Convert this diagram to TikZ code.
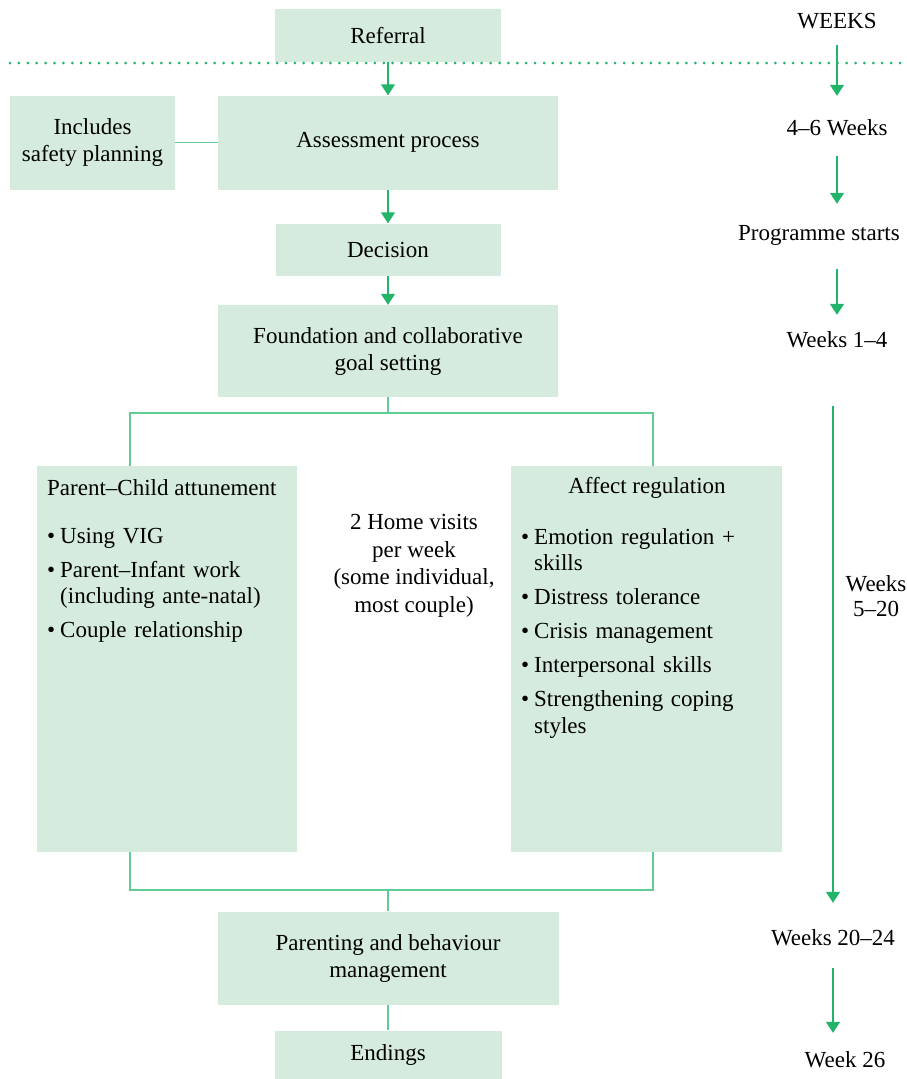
\documentclass[tikz,border=0pt]{standalone}
\usepackage{fontspec}
\setmainfont{Liberation Serif}
\usetikzlibrary{arrows.meta,positioning}

\definecolor{boxgreen}{HTML}{D5EBDD}
\definecolor{arrowgreen}{HTML}{22B46A}
\definecolor{linkgreen}{HTML}{5FCB95}

\tikzstyle{greenbox} = [fill=boxgreen, inner sep=0pt, align=center, font=\fontsize{23}{27}\selectfont]
\tikzstyle{plaintext} = [inner sep=0pt, font=\fontsize{23}{27}\selectfont]
\tikzstyle{itemlist} = [inner sep=0pt, anchor=north west, text width=250pt, font=\fontsize{23}{26.5}\selectfont]
\tikzstyle{weeklabel} = [inner sep=0pt, text height=15pt, text depth=1pt, font=\fontsize{23}{25}\selectfont]
\tikzstyle{arrowg} = [line width=1.5pt, arrowgreen, -{Triangle[width=14pt,length=11pt]}]
\tikzstyle{link} = [line width=1.8pt, linkgreen]

\newcommand{\itm}[1]{\hangindent=13pt\hangafter=1\noindent\makebox[13pt][l]{\textbullet}#1\par\vspace{7.5pt}}

\begin{document}
\begin{tikzpicture}[x=1pt, y=-1pt, node distance=107pt]
\useasboundingbox (0,0) rectangle (907,1079);

% main column
\node (referral) [greenbox, minimum width=226pt, minimum height=53pt] at (388,35.5) {Referral};
\node (assess) [greenbox, minimum width=340pt, minimum height=94pt, below of=referral] {Assessment process};
\node (include) [greenbox, minimum width=165pt, minimum height=94pt, left of=assess, xshift=-188.5pt] {Includes\\safety planning};
\node (decision) [greenbox, minimum width=225pt, minimum height=52pt, below of=assess] {Decision};
\node (found) [greenbox, minimum width=340pt, minimum height=92pt, below of=decision, yshift=5.5pt] {Foundation and collaborative\\goal setting};

% the two strands
\node (pcbox) [greenbox, minimum width=260pt, minimum height=386pt] at (167,659) {};
\node (arbox) [greenbox, minimum width=271pt, minimum height=386pt] at (646.5,659) {};
\node (pctitle) [plaintext, anchor=west] at (47,488) {Parent--Child attunement};
\node (artitle) [plaintext] at (647,488) {Affect regulation};
\node (pclist) [itemlist] at (47,528) {\itm{Using VIG}\itm{Parent--Infant work\newline (including ante-natal)}\itm{Couple relationship}};
\node (arlist) [itemlist] at (521,528) {\itm{Emotion regulation +\newline skills}\itm{Distress tolerance}\itm{Crisis management}\itm{Interpersonal skills}\itm{Strengthening coping\newline styles}};
\node (visits) [plaintext, align=center, font=\fontsize{23}{27.5}\selectfont] at (414,566) {2 Home visits\\per week\\(some individual,\\most couple)};

\node (parenting) [greenbox, minimum width=341pt, minimum height=93pt] at (388,958) {Parenting and behaviour\\management};
\node (endings) [greenbox, minimum width=227pt, minimum height=49pt, below of=parenting, yshift=10pt] {Endings};

% weeks column
\node (weeks) [weeklabel] at (837,21) {WEEKS};
\node (w46) [weeklabel, below of=weeks] {4--6 Weeks};
\node (progstart) [weeklabel, below of=w46, xshift=-18pt, yshift=2pt] {Programme starts};
\node (w14) [weeklabel, below of=progstart, xshift=18pt] {Weeks 1--4};
\node (w520) [plaintext, align=center, font=\fontsize{23}{25}\selectfont] at (876,596) {Weeks\\5--20};
\node (w2024) [weeklabel] at (833,938) {Weeks 20--24};
\node (w26) [weeklabel, below of=w2024, xshift=12pt, yshift=-15pt] {Week 26};

% separator
\coordinate (sepL) at (10,63);
\coordinate (sepR) at (907,63);
\draw [arrowgreen, line width=3pt, line cap=round, dash pattern=on 0pt off 8.9pt] (sepL) -- (sepR);

% branch points
\coordinate (splitL) at (130,413);
\coordinate (splitR) at (653,413);
\coordinate (joinL) at (130,890);
\coordinate (joinR) at (653,890);

\draw [arrowg] (referral) -- (assess);
\draw [arrowg] (assess) -- (decision);
\draw [arrowg] (decision) -- (found);
\draw [link] (include) -- (assess);

\draw [link] (found.south) -- (found.south |- splitL);
\draw [link] (splitL |- pcbox.north) -- (splitL) -- (splitR) -- (splitR |- arbox.north);
\draw [link] (splitL |- pcbox.south) -- (joinL) -- (joinR) -- (splitR |- arbox.south);
\draw [link] (parenting.north |- joinL) -- (parenting.north);
\draw [link] (parenting) -- (endings);

\draw [arrowg, shorten <=16pt, shorten >=24pt] (weeks) -- (w46);
\draw [arrowg, shorten <=20pt, shorten >=21pt] (w46.south) -- (w46.south |- progstart.north);
\draw [arrowg, shorten <=28pt, shorten >=17pt] (progstart.south -| w14) -- (w14.north);
\draw [arrowg, shorten <=58pt, shorten >=27pt] (w14.south -| w2024) -- (w2024.north);
\draw [arrowg, shorten <=22pt, shorten >=19pt] (w2024.south) -- (w2024.south |- w26.north);

\end{tikzpicture}
\end{document}
